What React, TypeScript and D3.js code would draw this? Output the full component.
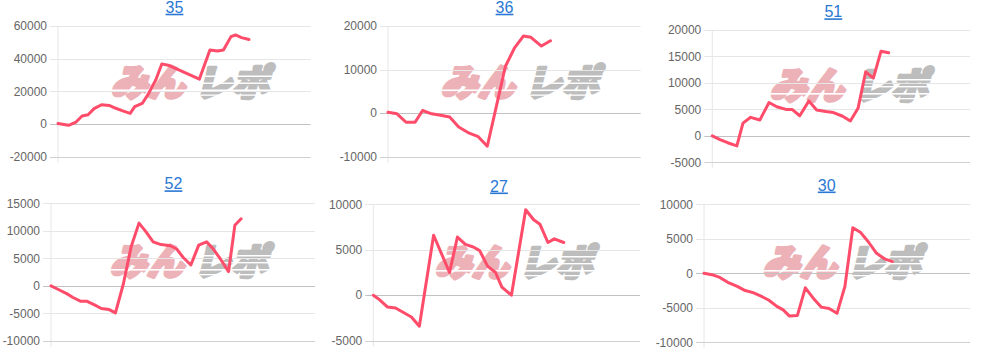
import React from "react";
import * as d3 from "d3";

// ---------- data ----------
const titles = ["35", "36", "51", "52", "27", "30"];

const xs35 = [0, 7, 12, 16, 20, 24, 29, 34, 38, 43, 48, 51, 56, 60, 65, 69, 74, 94, 101, 106, 110, 115, 118, 122, 127];
const vs35 = [300, -800, 1200, 4900, 5700, 9400, 11800, 11400, 9800, 8100, 6500, 10600, 12600, 18300, 27000, 36800, 35800, 27500, 45300, 44700, 45300, 53500, 54500, 52900, 51700];

const xs36 = [0, 6, 12, 18, 23, 29, 35, 41, 47, 54, 60, 66, 72, 78, 84, 90, 95, 102, 108];
const vs36 = [200, -150, -2100, -2100, 600, -150, -500, -900, -3200, -4600, -5400, -7600, 1500, 10700, 14900, 17700, 17400, 15400, 16600];

const xs51 = [0, 5, 10, 16, 20, 25, 31, 37, 42, 48, 52, 57, 63, 68, 74, 79, 85, 90, 95, 100, 105, 110, 115];
const vs51 = [0, -700, -1300, -1900, 2400, 3500, 3000, 6300, 5500, 5000, 5000, 3800, 6600, 4900, 4600, 4400, 3700, 2800, 5200, 12100, 10900, 16000, 15700];

const xs52 = [0, 5, 10, 14, 19, 23, 28, 32, 37, 41, 46, 51, 56, 60, 65, 70, 76, 80, 84, 89, 94, 99, 103, 108, 113, 117, 121];
const vs52 = [0, -700, -1400, -2100, -2800, -2800, -3500, -4100, -4300, -4900, 300, 7100, 11400, 10000, 8000, 7500, 7300, 6700, 5200, 3800, 7400, 8000, 6800, 4800, 2600, 11000, 12200];

const xs27 = [0, 4, 9, 14, 19, 24, 29, 38, 48, 53, 58, 63, 67, 72, 77, 81, 87, 96, 101, 105, 110, 114, 120];
const vs27 = [0, -500, -1300, -1400, -1900, -2400, -3400, 6600, 2500, 6400, 5600, 5300, 4900, 3200, 2500, 900, 0, 9400, 8300, 7800, 5800, 6200, 5800];

const xs30 = [0, 5, 10, 15, 21, 26, 31, 36, 41, 46, 50, 54, 59, 64, 69, 74, 79, 84, 89, 94, 99, 104, 109, 114, 119];
const vs30 = [0, -200, -600, -1300, -1900, -2500, -2800, -3300, -3900, -4800, -5300, -6200, -6100, -2100, -3600, -4900, -5100, -5800, -1900, 6600, 5900, 4500, 2900, 2100, 1700];

const ticks35 = [-20000, 0, 20000, 40000, 60000];
const ticks36 = [-10000, 0, 10000, 20000];
const ticks51 = [-5000, 0, 5000, 10000, 15000, 20000];
const ticks52 = [-10000, -5000, 0, 5000, 10000, 15000];
const ticks27 = [-5000, 0, 5000, 10000];
const ticks30 = [-10000, -5000, 0, 5000, 10000];

const xDomain = [0, 168];

// ---------- layout (positions only) ----------
const layouts = [
  { left: 58, right: 310.7, top: 26, bottom: 156.7, tx: 174.5, ty: 12.7, wx: 192, wy: 82.5 },
  { left: 388, right: 640.7, top: 26, bottom: 156.7, tx: 504.5, ty: 12.7, wx: 522, wy: 82.5 },
  { left: 712.3, right: 970, top: 30, bottom: 162.3, tx: 833.3, ty: 17.3, wx: 851, wy: 86 },
  { left: 51, right: 315, top: 203.3, bottom: 341, tx: 173.5, ty: 189.3, wx: 191, wy: 262 },
  { left: 373.3, right: 640, top: 204.3, bottom: 340.7, tx: 499, ty: 191.5, wx: 516, wy: 263 },
  { left: 704, right: 970, top: 204.3, bottom: 342.3, tx: 826.7, ty: 190.5, wx: 844, wy: 263 },
];

const series = [
  { xs: xs35, vs: vs35, ticks: ticks35 },
  { xs: xs36, vs: vs36, ticks: ticks36 },
  { xs: xs51, vs: vs51, ticks: ticks51 },
  { xs: xs52, vs: vs52, ticks: ticks52 },
  { xs: xs27, vs: vs27, ticks: ticks27 },
  { xs: xs30, vs: vs30, ticks: ticks30 },
];

const FONT = "'Liberation Sans', Arial, Helvetica, sans-serif";
const JP = "'Noto Sans CJK JP', 'Noto Sans', sans-serif";
const LINE = "#fe4c6a";

function Watermark({ cx, cy }: { cx: number; cy: number }) {
  const pink = "#ecb2b8";
  const grey = "#bdbdbd";
  return (
    <g transform={`translate(${cx},${cy})`}>
      <g transform="skewX(-14)">
        <text x={-78} y={13} fontSize={37} fontWeight={900} fontFamily={JP} fill={pink} stroke={pink} strokeWidth={3.4}
          strokeLinejoin="round" textLength={74} lengthAdjust="spacingAndGlyphs">みん</text>
        <text x={6} y={13} fontSize={37} fontWeight={900} fontFamily={JP} fill={grey} stroke={grey} strokeWidth={3.4}
          strokeLinejoin="round" textLength={74} lengthAdjust="spacingAndGlyphs">レポ</text>
      </g>
      <rect x={-84} y={7} width={174} height={1.6} fill="#fff" />
      <rect x={2} y={-7} width={88} height={1.5} fill="#fff" />
      <rect x={2} y={0} width={88} height={1.4} fill="#fff" />
      <rect x={2} y={12} width={88} height={1.3} fill="#fff" />
    </g>
  );
}

function Panel({ idx }: { idx: number }) {
  const L = layouts[idx];
  const S = series[idx];
  const x = d3.scaleLinear().domain(xDomain).range([L.left, L.right]);
  const y = d3.scaleLinear().domain([d3.min(S.ticks)!, d3.max(S.ticks)!]).range([L.bottom, L.top]);
  const pts: [number, number][] = S.xs.map((d, i) => [d, S.vs[i]]);
  const line = d3.line<[number, number]>().x((d) => x(d[0])).y((d) => y(d[1]));
  const minT = d3.min(S.ticks)!;
  return (
    <g>
      <Watermark cx={L.wx} cy={L.wy} />
      <line x1={L.left} x2={L.left} y1={L.top} y2={L.bottom + 6} stroke="#e6e6e6" strokeWidth={1} />
      {S.ticks.map((t) => (
        <g key={t}>
          <line x1={L.left - 8} x2={L.right} y1={Math.round(y(t)) + 0.5} y2={Math.round(y(t)) + 0.5}
            stroke={t === 0 ? "#c2c2c2" : t === minT ? "#d0d0d0" : "#e6e6e6"} strokeWidth={1} />
          <text x={L.left - 11} y={y(t)} dy="0.35em" textAnchor="end" fontSize={12} fontFamily={FONT} fill="#666">{t}</text>
        </g>
      ))}
      <path d={line(pts) || ""} fill="none" stroke={LINE} strokeWidth={3} strokeLinejoin="round" strokeLinecap="round" />
      <text x={L.tx} y={L.ty} textAnchor="middle" fontSize={16} fontFamily={FONT} fill="#2a78d4"
        style={{ textDecoration: "underline" }}>{titles[idx]}</text>
    </g>
  );
}

export default function App() {
  return (
    <svg width={983} height={354} style={{ position: "absolute", left: 0, top: 0, background: "#fff" }}>
      <rect width={983} height={354} fill="#fff" />
      {titles.map((_, i) => (
        <Panel key={i} idx={i} />
      ))}
    </svg>
  );
}
